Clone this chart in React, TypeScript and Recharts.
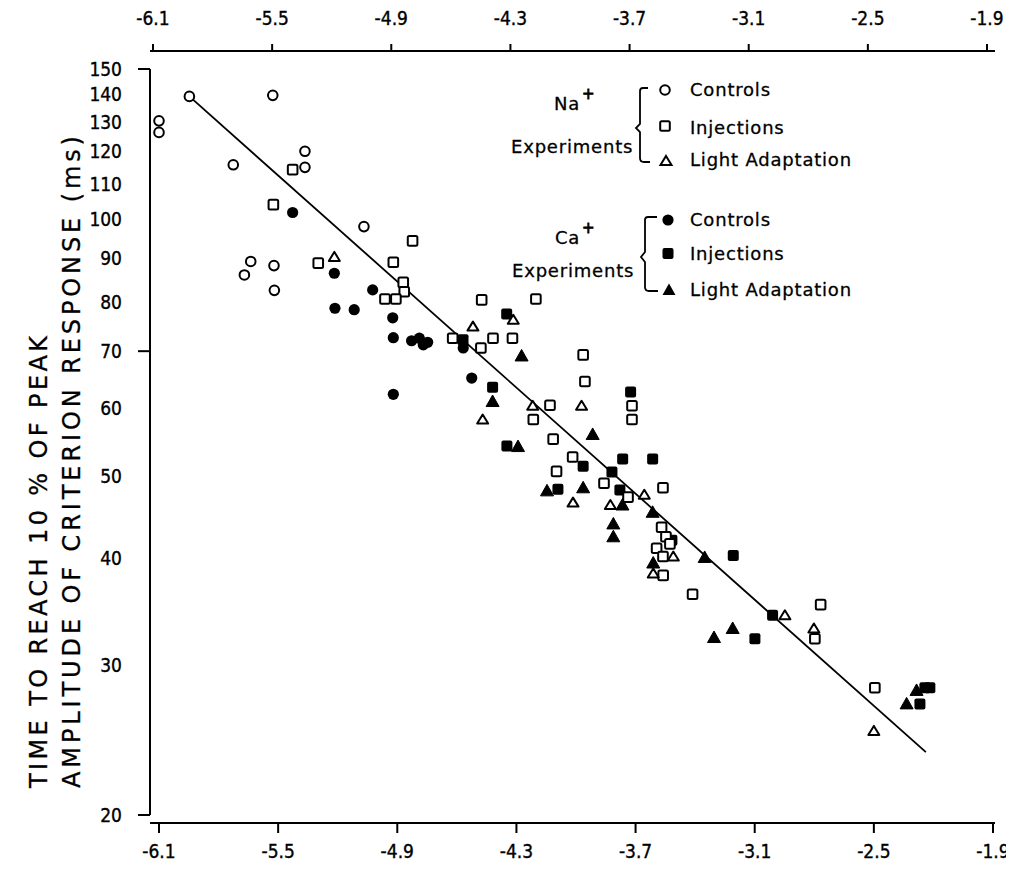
import { ScatterChart, Scatter, XAxis, YAxis, ReferenceLine } from 'recharts'

const X_TICKS = [-6.1, -5.5, -4.9, -4.3, -3.7, -3.1, -2.5, -1.9]
const Y_TICKS = [20, 30, 40, 50, 60, 70, 80, 90, 100, 110, 120, 130, 140, 150]
const Y_TICK_MARKS = [20, 70, 150]

// Na+ experiments
const NA_CONTROLS: [number, number][] = [
  [-5.947, 139.3], [-6.1, 130.4], [-6.1, 126.4], [-5.527, 139.7], [-5.726, 115.8],
  [-5.365, 120.1], [-5.365, 115.0], [-5.068, 98.0], [-5.638, 89.2], [-5.67, 86.0],
  [-5.521, 88.2], [-5.519, 82.5],
]
const NA_INJECTIONS: [number, number][] = [
  [-5.427, 114.3], [-5.524, 104.0], [-5.298, 88.8], [-4.92, 89.0], [-4.87, 84.3],
  [-4.865, 82.2], [-4.962, 80.6], [-4.907, 80.6], [-4.823, 94.3], [-4.621, 72.5],
  [-4.475, 80.4], [-4.202, 80.6], [-4.479, 70.6], [-4.418, 72.5], [-4.32, 72.5],
  [-4.131, 60.5], [-4.215, 58.2], [-4.115, 55.2], [-4.017, 52.6], [-4.098, 50.6],
  [-3.964, 69.3], [-3.955, 64.5], [-3.718, 60.4], [-3.718, 58.2], [-3.859, 49.0],
  [-3.738, 47.2], [-3.562, 48.4], [-3.569, 43.5], [-3.547, 42.4], [-3.594, 41.1],
  [-3.527, 41.6], [-3.562, 40.2], [-3.561, 38.2], [-3.413, 36.3], [-2.768, 35.3],
  [-2.797, 32.2], [-2.495, 28.2],
]
const NA_LIGHT: [number, number][] = [
  [-5.217, 90.3], [-4.519, 74.8], [-4.316, 76.2], [-4.47, 58.2], [-4.218, 60.4],
  [-3.972, 60.4], [-4.015, 46.5], [-3.827, 46.2], [-3.656, 47.5], [-3.51, 40.2],
  [-3.611, 38.4], [-2.948, 34.3], [-2.802, 33.1], [-2.5, 25.1],
]

// Ca+ experiments
const CA_CONTROLS: [number, number][] = [
  [-5.427, 101.8], [-5.217, 86.4], [-5.214, 78.6], [-5.117, 78.3], [-5.024, 82.6],
  [-4.923, 76.6], [-4.92, 72.6], [-4.92, 62.3], [-4.828, 72.0], [-4.789, 72.5],
  [-4.769, 71.2], [-4.747, 71.7], [-4.568, 70.6], [-4.525, 65.1],
]
const CA_INJECTIONS: [number, number][] = [
  [-4.42, 63.5], [-4.349, 77.4], [-4.348, 54.2], [-4.569, 72.2], [-4.091, 48.2],
  [-3.964, 51.3], [-3.819, 50.5], [-3.779, 48.1], [-3.765, 52.3], [-3.725, 62.7],
  [-3.614, 52.3], [-3.517, 42.0], [-3.208, 40.3], [-3.099, 32.2], [-3.01, 34.3],
  [-2.268, 27.0], [-2.243, 28.2], [-2.218, 28.2],
]
const CA_LIGHT: [number, number][] = [
  [-4.42, 61.1], [-4.292, 54.1], [-4.274, 69.1], [-4.146, 48.0], [-3.964, 48.4],
  [-3.916, 55.9], [-3.812, 43.9], [-3.812, 42.4], [-3.766, 46.2], [-3.614, 45.3],
  [-3.611, 39.5], [-3.352, 40.1], [-3.305, 32.3], [-3.211, 33.1], [-2.335, 27.0],
  [-2.285, 28.0],
]

// regression line end points
const FIT_LINE: [number, number][] = [[-5.947, 139.3], [-2.238, 23.7]]

const W = 1006
const H = 856
const Y_AXIS_W = 142
const TOP_H = 43
const BOTTOM_H = 41
const RIGHT_M = 19
const PAD_L = 9
const PAD_R = 2
const PLOT_W = W - Y_AXIS_W - RIGHT_M
const PX_PER_UNIT = (PLOT_W - PAD_L - PAD_R) / (X_TICKS[X_TICKS.length - 1] - X_TICKS[0])
const Y_LINE_X = X_TICKS[0] - PAD_L / PX_PER_UNIT

const TICK_FONT = '"DejaVu Sans Condensed", "Liberation Sans Narrow", Arial, sans-serif'
const TEXT_FONT = '"DejaVu Sans", "Liberation Sans", sans-serif'

const toPts = (arr: [number, number][]) => arr.map(([x, y]) => ({ x, y }))
const noShape = () => <g />

const openCircle = ({ cx, cy }: any) => (
  <circle cx={cx} cy={cy} r={4.8} fill="#fff" stroke="#000" strokeWidth={2} />
)
const openSquare = ({ cx, cy }: any) => (
  <rect x={cx - 4.8} y={cy - 4.8} width={9.6} height={9.6} rx={1.5} fill="#fff" stroke="#000" strokeWidth={2} />
)
const openTriangle = ({ cx, cy }: any) => (
  <path d={`M${cx},${cy - 5} L${cx + 5.5},${cy + 4} L${cx - 5.5},${cy + 4} Z`} fill="#fff" stroke="#000" strokeWidth={2} strokeLinejoin="round" />
)
const filledCircle = ({ cx, cy }: any) => <circle cx={cx} cy={cy} r={5.6} fill="#000" />
const filledSquare = ({ cx, cy }: any) => (
  <rect x={cx - 5.5} y={cy - 5.5} width={11} height={11} rx={2} fill="#000" />
)
const filledTriangle = ({ cx, cy }: any) => (
  <path d={`M${cx},${cy - 6.5} L${cx + 6.5},${cy + 5} L${cx - 6.5},${cy + 5} Z`} fill="#000" stroke="#000" strokeWidth={1} strokeLinejoin="round" />
)

const labelProps = {
  fontSize: 19,
  fontFamily: TICK_FONT,
  fill: '#000',
  stroke: '#000',
  strokeWidth: 0.35,
}

function BottomTick({ x, payload }: any) {
  return (
    <text x={x} y={850} textAnchor="middle" {...labelProps}>
      {payload.value.toFixed(1)}
    </text>
  )
}

function TopTick({ x, payload }: any) {
  return (
    <text x={x} y={17} textAnchor="middle" {...labelProps}>
      {payload.value.toFixed(1)}
    </text>
  )
}

function LeftTick({ y, payload }: any) {
  const v = payload.value
  return (
    <g>
      {Y_TICK_MARKS.includes(v) && (
        <line x1={130} x2={Y_AXIS_W} y1={y} y2={y} stroke="#000" strokeWidth={2} />
      )}
      <text x={114} y={y} dy="0.36em" textAnchor="end" {...labelProps}>
        {v}
      </text>
    </g>
  )
}

function LegendOverlay() {
  const t = { fontSize: 18, fontFamily: TEXT_FONT, fill: '#000', letterSpacing: 0.8, stroke: '#000', strokeWidth: 0.3 }
  return (
    <svg width={W} height={H} style={{ position: 'absolute', left: 0, top: 0, pointerEvents: 'none' }}>
      <g transform="translate(-8,-8)">
        {/* y axis title */}
        <text transform="translate(47,788) rotate(-90)" fontSize={24} fontFamily={TEXT_FONT} textLength={452} lengthAdjust="spacing" stroke="#000" strokeWidth={0.3}>
          TIME TO REACH 10 % OF PEAK
        </text>
        <text transform="translate(80,788) rotate(-90)" fontSize={24} fontFamily={TEXT_FONT} textLength={652} lengthAdjust="spacing" stroke="#000" strokeWidth={0.3}>
          AMPLITUDE OF CRITERION RESPONSE (ms)
        </text>

        {/* Na+ group */}
        <text x={554} y={110} {...t}>Na</text>
        <text x={582} y={99} {...t} fontSize={15} strokeWidth={0.8}>+</text>
        <text x={511} y={153} {...t}>Experiments</text>
        <path d="M648,88 L643,88 Q640,88 640,91 L640,124 L636,128 L640,132 L640,158 Q640,162 644,162 L650,162" fill="none" stroke="#000" strokeWidth={1.8} />
        <circle cx={665} cy={90} r={4.8} fill="#fff" stroke="#000" strokeWidth={2} />
        <rect x={660.2} y={121.2} width={9.6} height={9.6} rx={1.5} fill="#fff" stroke="#000" strokeWidth={2} />
        <path d="M666,156 L671.5,165 L660.5,165 Z" fill="#fff" stroke="#000" strokeWidth={2} />
        <text x={690} y={96} {...t}>Controls</text>
        <text x={690} y={134} {...t}>Injections</text>
        <text x={690} y={166} {...t}>Light  Adaptation</text>

        {/* Ca+ group */}
        <text x={555} y={244} {...t}>Ca</text>
        <text x={582} y={233} {...t} fontSize={15} strokeWidth={0.8}>+</text>
        <text x={512} y={277} {...t}>Experiments</text>
        <path d="M657,217 L648,217 Q645,217 645,220 L645,252 L641,257 L645,262 L645,287 Q645,291 649,291 L658,291" fill="none" stroke="#000" strokeWidth={1.8} />
        <circle cx={668} cy={220} r={5.6} fill="#000" />
        <rect x={662.5} y={248} width={11} height={11} rx={2} fill="#000" />
        <path d="M669,283.5 L675.5,295 L662.5,295 Z" fill="#000" />
        <text x={690} y={226} {...t}>Controls</text>
        <text x={690} y={260} {...t}>Injections</text>
        <text x={690} y={296} {...t}>Light  Adaptation</text>
      </g>
    </svg>
  )
}

export default function App() {
  const axisStroke = { stroke: '#000', strokeWidth: 2 }
  return (
    <div style={{ position: 'relative', width: W, height: H, background: '#fff' }}>
      <ScatterChart width={W} height={H} margin={{ top: 0, right: RIGHT_M, bottom: 0, left: 0 }}>
        <XAxis
          xAxisId="b"
          dataKey="x"
          type="number"
          domain={[X_TICKS[0], X_TICKS[X_TICKS.length - 1]]}
          ticks={X_TICKS}
          padding={{ left: PAD_L, right: PAD_R }}
          height={BOTTOM_H}
          tickSize={10}
          axisLine={axisStroke}
          tickLine={axisStroke}
          tick={<BottomTick />}
          interval={0}
        />
        <XAxis
          xAxisId="t"
          dataKey="x"
          orientation="top"
          type="number"
          domain={[X_TICKS[0], X_TICKS[X_TICKS.length - 1]]}
          ticks={X_TICKS}
          padding={{ left: 3, right: 8 }}
          height={TOP_H}
          tickSize={7}
          axisLine={axisStroke}
          tickLine={axisStroke}
          tick={<TopTick />}
          interval={0}
        />
        <YAxis
          dataKey="y"
          type="number"
          scale="log"
          domain={[20, 150]}
          ticks={Y_TICKS}
          padding={{ top: 18, bottom: 8 }}
          width={Y_AXIS_W}
          axisLine={false}
          tickLine={false}
          tick={<LeftTick />}
          interval={0}
        />
        <ReferenceLine
          xAxisId="b"
          ifOverflow="visible"
          segment={[{ x: Y_LINE_X, y: 20 }, { x: Y_LINE_X, y: 150 }]}
          stroke="#000"
          strokeWidth={2}
        />
        {/* hidden series so the top axis gets its ticks */}
        <Scatter xAxisId="t" data={toPts(FIT_LINE)} shape={noShape} isAnimationActive={false} />
        <Scatter
          xAxisId="b"
          data={toPts(FIT_LINE)}
          line={{ stroke: '#000', strokeWidth: 1.8 }}
          shape={noShape}
          isAnimationActive={false}
        />
        <Scatter xAxisId="b" data={toPts(NA_CONTROLS)} shape={openCircle} isAnimationActive={false} />
        <Scatter xAxisId="b" data={toPts(CA_CONTROLS)} shape={filledCircle} isAnimationActive={false} />
        <Scatter xAxisId="b" data={toPts(CA_INJECTIONS)} shape={filledSquare} isAnimationActive={false} />
        <Scatter xAxisId="b" data={toPts(CA_LIGHT)} shape={filledTriangle} isAnimationActive={false} />
        <Scatter xAxisId="b" data={toPts(NA_INJECTIONS)} shape={openSquare} isAnimationActive={false} />
        <Scatter xAxisId="b" data={toPts(NA_LIGHT)} shape={openTriangle} isAnimationActive={false} />
      </ScatterChart>
      <LegendOverlay />
    </div>
  )
}
